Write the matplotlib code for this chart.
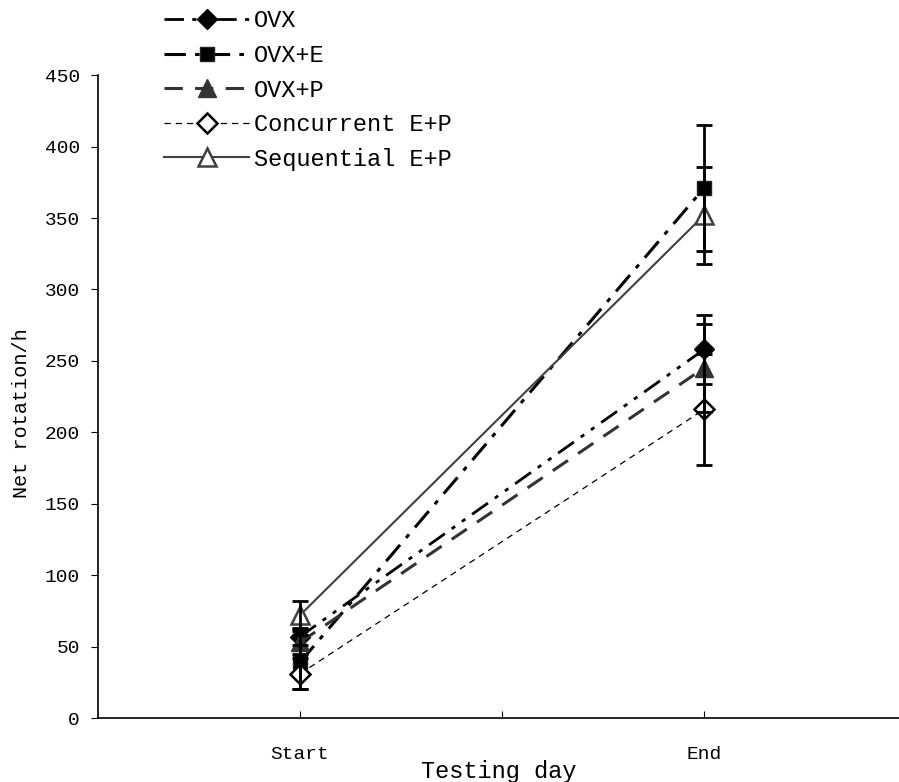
import matplotlib
matplotlib.use("Agg")
import matplotlib.pyplot as plt
from matplotlib.lines import Line2D

plt.rcParams['font.family'] = ['Liberation Mono', 'DejaVu Sans Mono']

days = ["Start", "End"]
x_pos = [1, 3]
series = ["OVX", "OVX+E", "OVX+P", "Concurrent E+P", "Sequential E+P"]
means = {
    "OVX": [57, 258],
    "OVX+E": [39, 371],
    "OVX+P": [53, 245],
    "Concurrent E+P": [31, 216],
    "Sequential E+P": [72, 352],
}
errs = {
    "OVX": [6, 24],
    "OVX+E": [19, 44],
    "OVX+P": [8, 31],
    "Concurrent E+P": [11, 39],
    "Sequential E+P": [10, 34],
}

styles = {
    "OVX": dict(color="black", lw=2.0, dashes=(7, 3, 1.5, 3, 1.5, 3), marker="D",
                ms=10.5, mfc="black", mec="black"),
    "OVX+E": dict(color="black", lw=2.2, dashes=(7, 3, 1.5, 3), marker="s",
                  ms=10, mfc="black", mec="#222222"),
    "OVX+P": dict(color="#333333", lw=2.2, dashes=(6, 4), marker="^",
                  ms=12.5, mfc="#333333", mec="#333333"),
    "Concurrent E+P": dict(color="black", lw=0.9, dashes=(5, 4), marker="D",
                           ms=10, mfc="white", mec="black", mew=1.8),
    "Sequential E+P": dict(color="#404040", lw=1.5, marker="^",
                           ms=12.5, mfc="white", mec="#404040", mew=1.8),
}

fig = plt.figure(figsize=(8.99, 7.82), dpi=100)
ax = fig.add_axes([0.109, 0.0818, 0.891, 0.822])

handles = []
for s in series:
    st = dict(styles[s])
    dashes = st.pop("dashes", None)
    kw = dict(st)
    if dashes is not None:
        kw["dashes"] = dashes
    ax.plot(x_pos, means[s], zorder=3, **kw)
    ax.errorbar(x_pos, means[s], yerr=errs[s], fmt="none", ecolor="black",
                elinewidth=2, capsize=6, capthick=2, zorder=4)
    handles.append(Line2D([0], [0], **kw))

ax.set_xlim(0, 3.965)
ax.set_ylim(0, 450)
ax.set_yticks(range(0, 451, 50))
ax.set_xticks([1, 2, 3])
ax.set_xticklabels(["Start", "", "End"])
for sp in ["top", "right"]:
    ax.spines[sp].set_visible(False)
for sp in ["left", "bottom"]:
    ax.spines[sp].set_linewidth(1.2)
ax.tick_params(axis="y", direction="out", length=5, labelsize=14, pad=8)
ax.tick_params(axis="x", direction="in", length=5, labelsize=14, pad=20)
ax.set_ylabel("Net rotation/h", fontsize=14.5)
ax.yaxis.set_label_coords(-0.084, 0.474)
ax.set_xlabel("Testing day", fontsize=17, labelpad=-2)

fig.legend(handles, series, loc="upper left", bbox_to_anchor=(0.172, 1.0),
           frameon=False, fontsize=17, handlelength=3.6, handletextpad=0.2,
           labelspacing=0.49, borderaxespad=0)

fig.savefig("out.png", dpi=100)
